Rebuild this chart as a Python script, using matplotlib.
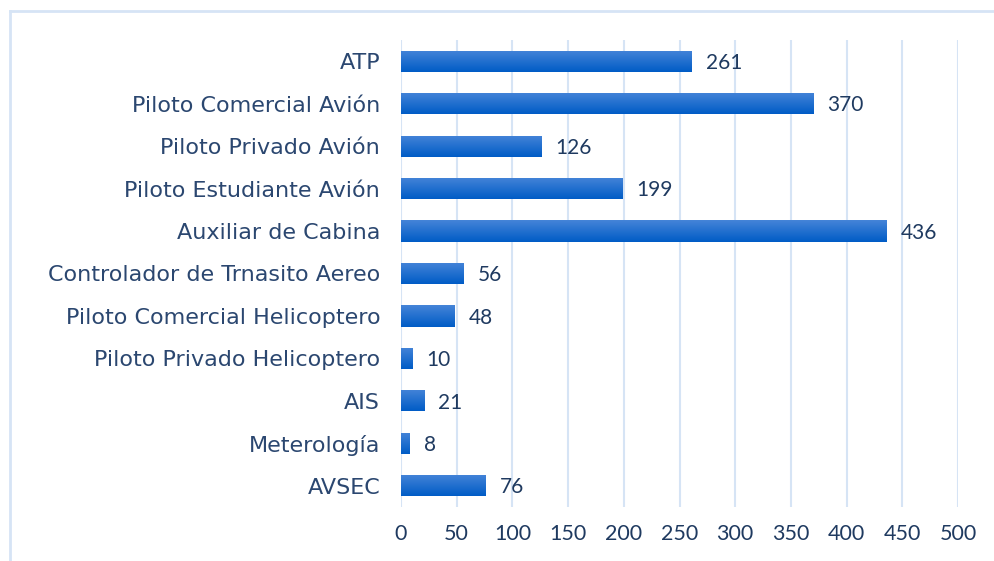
import numpy as np
import matplotlib
matplotlib.use("Agg")
import matplotlib.pyplot as plt
from matplotlib.lines import Line2D
from matplotlib.colors import LinearSegmentedColormap

categories = ["ATP", "Piloto Comercial Avión", "Piloto Privado Avión",
              "Piloto Estudiante Avión", "Auxiliar de Cabina",
              "Controlador de Trnasito Aereo", "Piloto Comercial Helicoptero",
              "Piloto Privado Helicoptero", "AIS", "Meterología", "AVSEC"]
values = [261, 370, 126, 199, 436, 56, 48, 10, 21, 8, 76]
xticks = [0, 50, 100, 150, 200, 250, 300, 350, 400, 450, 500]

TXT = "#2B4770"
NUM = "#1F3A60"
GRID = "#D6E4F5"

fig = plt.figure(figsize=(9.94, 5.61), dpi=100)
ax = fig.add_axes([401 / 994, 1 - 507 / 561, 557 / 994, 467 / 561])

# outer frame (only left & top visible in the reference)
fig.add_artist(Line2D([10 / 994, 10 / 994], [0, 1 - 11 / 561],
                      transform=fig.transFigure, color=GRID, lw=2))
fig.add_artist(Line2D([10 / 994, 1], [1 - 11 / 561, 1 - 11 / 561],
                      transform=fig.transFigure, color=GRID, lw=2))

n = len(categories)
ypos = np.arange(n)
cmap = LinearSegmentedColormap.from_list("bar", ["#005CC6", "#4584D8"])
grad = np.linspace(0, 1, 64).reshape(-1, 1)

bars = ax.barh(ypos, values, height=0.5, color="#1166CC", zorder=2)
for b in bars:
    x0, y0 = b.get_x(), b.get_y()
    w, h = b.get_width(), b.get_height()
    im = ax.imshow(grad, cmap=cmap, aspect="auto", zorder=3,
                   extent=[x0, x0 + w, y0 + h, y0], origin="lower")
    im.set_clip_path(b)
ax.set_xlim(0, 500)
ax.set_ylim(n - 0.5, -0.5)

for y, v in zip(ypos, values):
    ax.text(v + 12.5, y + 0.04, str(v), va="center", ha="left",
            fontsize=15, color=NUM, family="Lato")

ax.set_xticks(xticks)
ax.set_xticklabels([str(t) for t in xticks], fontsize=15.5, color=NUM,
                   family="Lato")
ax.set_yticks(ypos)
ax.set_yticklabels(categories, fontsize=16, color=TXT, family="DejaVu Sans")
ax.tick_params(axis="y", length=0, pad=15)
ax.tick_params(axis="x", length=0, pad=12)
ax.grid(axis="x", color=GRID, lw=1.5, zorder=0)
ax.set_axisbelow(True)
for sp in ax.spines.values():
    sp.set_visible(False)

fig.savefig("out.png", dpi=100, facecolor="white")
